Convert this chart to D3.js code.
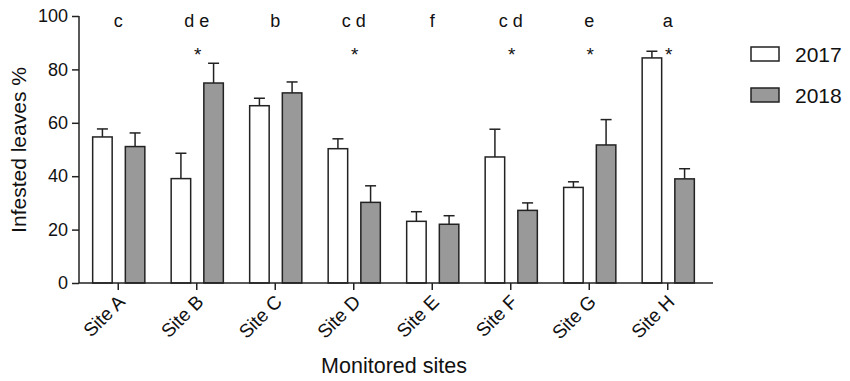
<!DOCTYPE html>
<html><head><meta charset="utf-8">
<script src="https://cdn.jsdelivr.net/npm/d3@7"></script>
<style>body{margin:0;background:#fff}svg{display:block;font-family:Arial,"Liberation Sans",sans-serif}</style>
</head><body>
<script>
const sites = ["Site A","Site B","Site C","Site D","Site E","Site F","Site G","Site H"];
const series = ["2017","2018"];
const values2017 = [54.7, 39.1, 66.4, 50.3, 23.1, 47.2, 35.8, 84.3];
const errors2017 = [3.0, 9.5, 2.8, 3.7, 3.6, 10.4, 2.1, 2.5];
const values2018 = [51.1, 74.9, 71.2, 30.2, 22.0, 27.2, 51.7, 39.0];
const errors2018 = [5.1, 7.4, 4.1, 6.2, 3.2, 2.8, 9.5, 3.8];
const letters = ["c","d e","b","c d","f","c d","e","a"];
const stars = [false, true, false, true, false, true, true, true];
const yTicks = [0,20,40,60,80,100];

const W=850,H=381;
const FF="Arial,'Liberation Sans',sans-serif";
const svg=d3.select("body").append("svg").attr("width",W).attr("height",H);
const x=d3.scaleBand().domain(sites).range([79,707]);
const y=d3.scaleLinear().domain([0,100]).range([283,16]);
const sub=d3.scaleBand().domain(series).range([-24,25]).paddingInner(0.5);
const colors={"2017":"#ffffff","2018":"#999999"};
const bw=19.5;

const data=[];
sites.forEach((s,i)=>{
  data.push({site:s,yr:"2017",v:values2017[i],e:errors2017[i]});
  data.push({site:s,yr:"2018",v:values2018[i],e:errors2018[i]});
});
const cx=d=>x(d.site)+x.bandwidth()/2+sub(d.yr)+sub.bandwidth()/2;

// error bars
const eb=svg.append("g").attr("stroke","#222").attr("stroke-width",1.5);
eb.selectAll("line.v").data(data).join("line")
  .attr("x1",cx).attr("x2",cx).attr("y1",d=>y(d.v)).attr("y2",d=>y(d.v+d.e));
eb.selectAll("line.c").data(data).join("line")
  .attr("x1",d=>cx(d)-5.5).attr("x2",d=>cx(d)+5.5).attr("y1",d=>y(d.v+d.e)).attr("y2",d=>y(d.v+d.e));

// bars
svg.append("g").selectAll("rect").data(data).join("rect")
  .attr("x",d=>cx(d)-bw/2).attr("width",bw)
  .attr("y",d=>y(d.v)).attr("height",d=>y(0)-y(d.v))
  .attr("fill",d=>colors[d.yr]).attr("stroke","#222").attr("stroke-width",1.5);

// axes
const ya=svg.append("g").attr("transform","translate(79,0)")
  .call(d3.axisLeft(y).tickValues(yTicks).tickSize(7).tickPadding(4));
ya.attr("font-size",18).attr("font-family",FF);
ya.select(".domain").attr("stroke","#222").attr("stroke-width",1.5).attr("d","M0,283V16");
ya.selectAll(".tick line").attr("stroke","#222").attr("stroke-width",1.5);
ya.selectAll("text").attr("fill","#111");

const xa=svg.append("g").attr("transform","translate(0,283)")
  .call(d3.axisBottom(x).tickSize(7).tickSizeOuter(0));
xa.attr("font-size",19).attr("font-family",FF);
xa.select(".domain").attr("stroke","#222").attr("stroke-width",1.5).attr("d","M79,0H713");
xa.selectAll(".tick line").attr("stroke","#222").attr("stroke-width",1.5);
xa.selectAll("text").attr("fill","#111")
  .attr("text-anchor","end").attr("dy",0).attr("y",0)
  .attr("transform","translate(8,20) rotate(-45)");

// letters and stars
svg.append("g").selectAll("text").data(sites).join("text")
  .attr("x",d=>x(d)+x.bandwidth()/2).attr("y",27).attr("text-anchor","middle")
  .attr("font-size",18).attr("fill","#111").text((d,i)=>letters[i]);
svg.append("g").selectAll("text").data(sites.filter((d,i)=>stars[i])).join("text")
  .attr("x",d=>x(d)+x.bandwidth()/2+1).attr("y",61).attr("text-anchor","middle")
  .attr("font-size",19).attr("fill","#111").text("*");

// titles
svg.append("text").attr("transform","translate(26,150) rotate(-90)").attr("text-anchor","middle")
  .attr("font-size",21).attr("fill","#111").text("Infested leaves %");
svg.append("text").attr("x",394).attr("y",373).attr("text-anchor","middle")
  .attr("font-size",21.5).attr("fill","#111").text("Monitored sites");

// legend
const lg=svg.append("g");
series.forEach((s,i)=>{
  lg.append("rect").attr("x",751).attr("y",47+i*41).attr("width",28).attr("height",14)
    .attr("fill",colors[s]).attr("stroke","#222").attr("stroke-width",1.5);
  lg.append("text").attr("x",795).attr("y",61.5+i*41).attr("font-size",21).attr("fill","#111").text(s);
});
</script>
</body></html>
